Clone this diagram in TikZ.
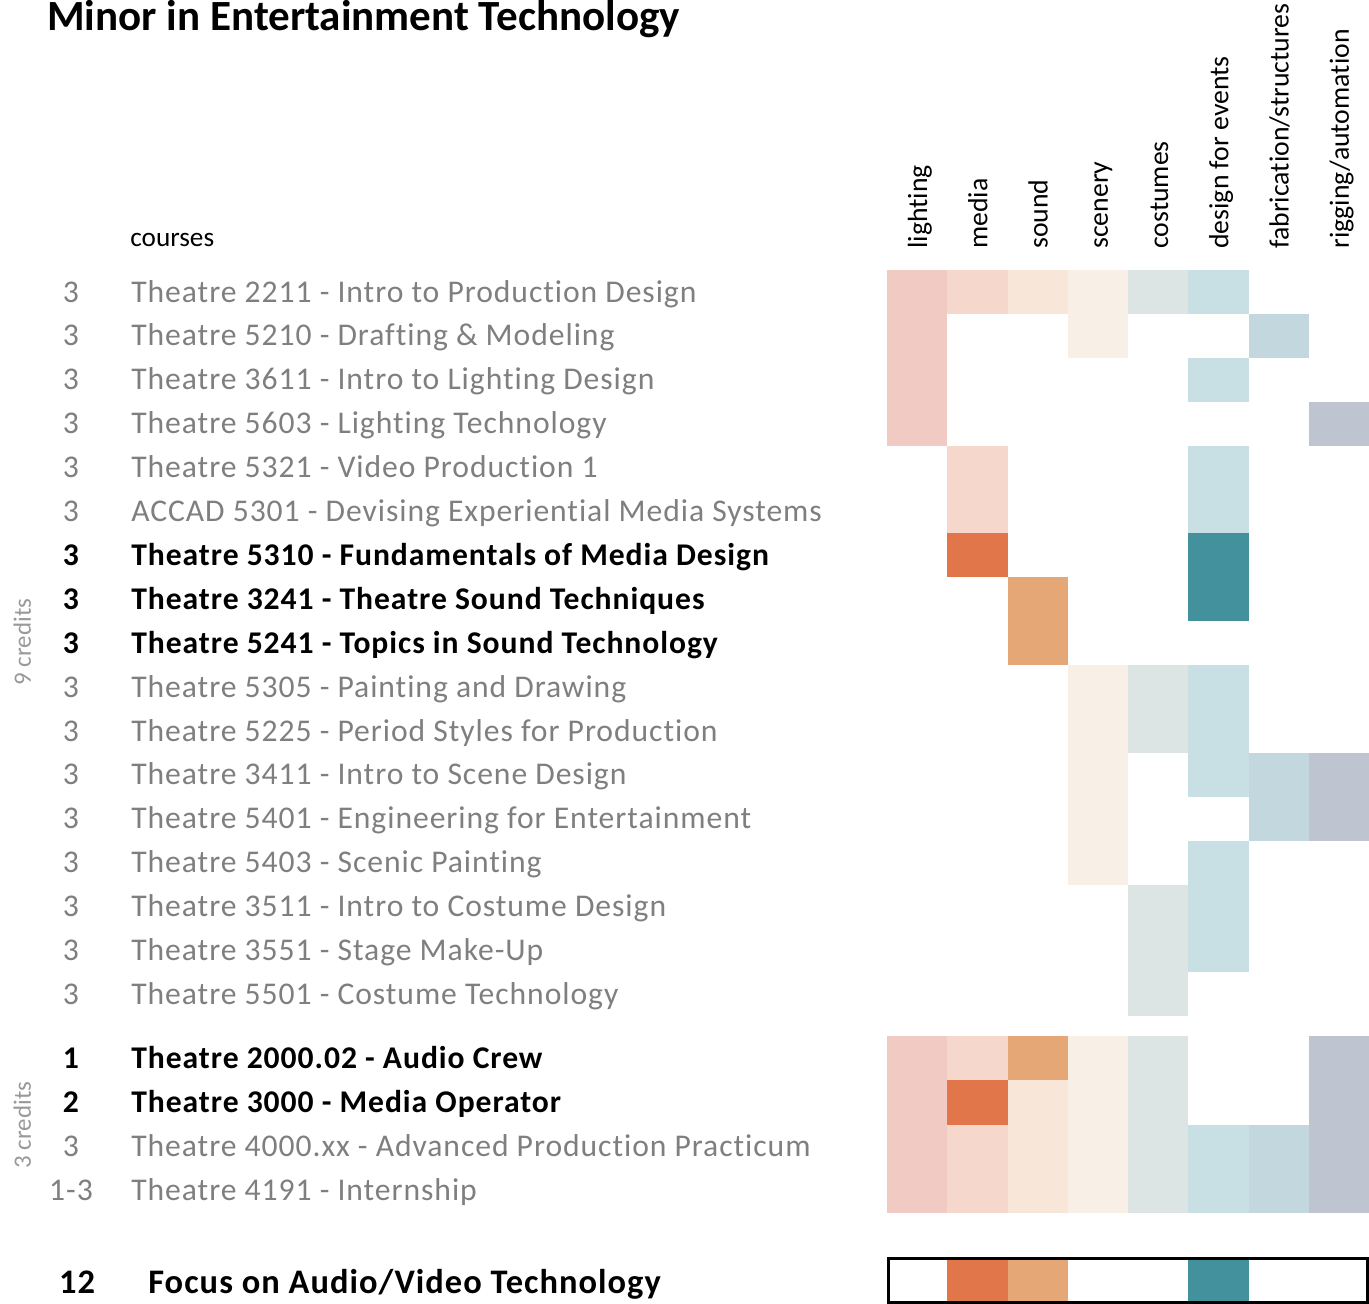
\documentclass[tikz,border=0pt]{standalone}
\usepackage{fontspec}
\setmainfont{Carlito}[Ligatures=NoCommon]
\newfontfamily\coursefont[LetterSpace=3,Ligatures=NoCommon]{Carlito}
\usepackage{tikz}
\usetikzlibrary{positioning,calc}

\definecolor{txtgray}{HTML}{7F7F7F}
\definecolor{lblgray}{HTML}{999999}
\definecolor{lightc}{HTML}{F0CAC3}
\definecolor{medlt}{HTML}{F6D7CB}
\definecolor{meddk}{HTML}{E07649}
\definecolor{sndlt}{HTML}{F8E6D8}
\definecolor{snddk}{HTML}{E5A775}
\definecolor{scenc}{HTML}{F8F0E7}
\definecolor{costc}{HTML}{DCE5E3}
\definecolor{deslt}{HTML}{C8DFE3}
\definecolor{desdk}{HTML}{43919C}
\definecolor{fabc}{HTML}{C3D7DF}
\definecolor{rigc}{HTML}{BEC5D0}

\begin{document}
\begin{tikzpicture}[x=0.02cm, y=-0.02cm,
            every node/.style={inner sep=0pt, font=\coursefont\fontsize{18}{21}\selectfont},
            course/.style={anchor=base west, text=txtgray},
            bcourse/.style={anchor=base west, font=\coursefont\fontsize{18}{21}\selectfont\bfseries},
            hours/.style={anchor=base, text=txtgray},
            bhours/.style={anchor=base, font=\coursefont\fontsize{18}{21}\selectfont\bfseries},
            header/.style={anchor=base west, rotate=90, font=\fontsize{15.8}{19}\selectfont},
            credits/.style={anchor=base, rotate=90, text=lblgray, font=\fontsize{14.2}{17}\selectfont}]
        \useasboundingbox (0,0) rectangle (1369,1304);

        % required and elective courses
        \foreach \c/\a/\b/\col in {0/0/3/lightc, 1/0/0/medlt, 1/4/5/medlt, 1/6/6/meddk,
                2/0/0/sndlt, 2/7/8/snddk, 3/0/1/scenc, 3/9/13/scenc,
                4/0/0/costc, 4/9/10/costc, 4/14/16/costc,
                5/0/0/deslt, 5/2/2/deslt, 5/4/5/deslt, 5/6/7/desdk, 5/9/11/deslt, 5/13/15/deslt,
                6/1/1/fabc, 6/11/12/fabc, 7/3/3/rigc, 7/11/12/rigc}
            \fill[\col] ({887+60.25*\c},{270+43.9*\a}) rectangle ({887+60.25*(\c+1)},{270+43.9*(\b+1)});

        % practicum
        \foreach \c/\a/\b/\col in {0/0/3/lightc, 1/0/0/medlt, 1/1/1/meddk, 1/2/3/medlt,
                2/0/0/snddk, 2/1/3/sndlt, 3/0/3/scenc, 4/0/3/costc,
                5/2/3/deslt, 6/2/3/fabc, 7/0/3/rigc}
            \fill[\col] ({887+60.25*\c},{1036+44.25*\a}) rectangle ({887+60.25*(\c+1)},{1036+44.25*(\b+1)});

        % focus
        \foreach \c/\col in {1/meddk, 2/snddk, 5/desdk}
            \fill[\col] ({887+60.25*\c},1257) rectangle ({887+60.25*(\c+1)},1304);
        \draw[line width=0.06cm] (888.5,1258.5) rectangle (1367.5,1302.5);

        \node[anchor=base west, font=\fontsize{24.5}{29}\selectfont\bfseries] (title) at (47,31)
            {Minor in Entertainment Technology};
        \node[anchor=base west, font=\fontsize{15.5}{18}\selectfont] (courses) at (130,247) {courses};

        \foreach \c/\t in {0/lighting, 1/media, 2/sound, 3/scenery, 4/costumes,
                5/design for events, 6/{fabrication/structures}, 7/{rigging/automation}}
            \node[header] (hd\c) at ({917+60.25*\c+10},249) {\t};

        \foreach \i/\t in {0/Theatre 2211 - Intro to Production Design,
                1/Theatre 5210 - Drafting \& Modeling,
                2/Theatre 3611 - Intro to Lighting Design,
                3/Theatre 5603 - Lighting Technology,
                4/Theatre 5321 - Video Production 1,
                5/ACCAD 5301 - Devising Experiential Media Systems,
                9/Theatre 5305 - Painting and Drawing,
                10/Theatre 5225 - Period Styles for Production,
                11/Theatre 3411 - Intro to Scene Design,
                12/Theatre 5401 - Engineering for Entertainment,
                13/Theatre 5403 - Scenic Painting,
                14/Theatre 3511 - Intro to Costume Design,
                15/Theatre 3551 - Stage Make-Up,
                16/Theatre 5501 - Costume Technology}
        {
            \node[hours] (h\i) at (71,{302+43.9*\i}) {3};
            \node[course] (c\i) at (131,{302+43.9*\i}) {\t};
        }
        \foreach \i/\t in {6/Theatre 5310 - Fundamentals of Media Design,
                7/Theatre 3241 - Theatre Sound Techniques,
                8/Theatre 5241 - Topics in Sound Technology}
        {
            \node[bhours] (h\i) at (71,{302+43.9*\i}) {3};
            \node[bcourse] (c\i) at (131,{302+43.9*\i}) {\t};
        }

        \node[bhours] (p0) at (71,1068) {1};
        \node[bcourse] (q0) at (131,1068) {Theatre 2000.02 - Audio Crew};
        \node[bhours] (p1) at (71,1112) {2};
        \node[bcourse] (q1) at (131,1112) {Theatre 3000 - Media Operator};
        \node[hours] (p2) at (71,1156) {3};
        \node[course] (q2) at (131,1156) {Theatre 4000.xx - Advanced Production Practicum};
        \node[hours] (p3) at (71,1200) {1-3};
        \node[course] (q3) at (131,1200) {Theatre 4191 - Internship};

        \node[credits] (nine) at (31,642) {9 credits};
        \node[credits] (three) at (31,1125) {3 credits};

        \node[bhours, font=\coursefont\fontsize{19.6}{23}\selectfont\bfseries] (total) at (77,1293) {12};
        \node[bcourse, font=\coursefont\fontsize{19.6}{23}\selectfont\bfseries] (focus) at (148,1293)
            {Focus on Audio/Video Technology};
\end{tikzpicture}
\end{document}
